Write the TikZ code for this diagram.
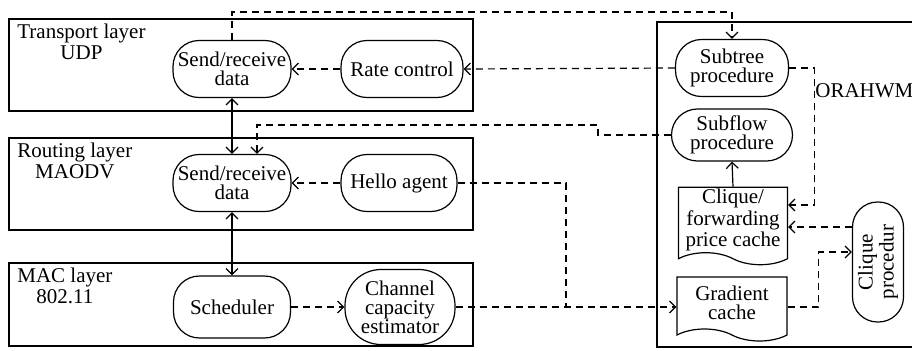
\documentclass[tikz,border=0pt]{standalone}
\usepackage{fontspec}
\setmainfont{Liberation Serif}
\usetikzlibrary{arrows.meta,shapes.symbols}
\tikzset{
  pill/.style={draw,rectangle,rounded corners=13pt,align=center,inner sep=1pt,line width=0.6pt,font=\fontsize{10.5}{9.5}\selectfont},
  doc/.style={draw,tape,tape bend top=none,tape bend bottom=out and in,tape bend height=6pt,align=center,inner sep=1pt,line width=0.6pt,font=\fontsize{10.5}{9.5}\selectfont},
  layer/.style={anchor=north west,align=center,inner sep=0pt,font=\fontsize{10.5}{10.5}\selectfont},
  sline/.style={line width=0.6pt},
  dline/.style={line width=0.6pt,dash pattern=on 3.5pt off 2.5pt}
}
\begin{document}
\begin{tikzpicture}[x=0.5pt,y=-0.5pt,>={Straight Barb[length=3pt,width=6pt]}]
\clip (0,0) rectangle (912,350);
\draw[sline] (9,19) rectangle (473,111);
\draw[sline] (9,138) rectangle (473,230);
\draw[sline] (9,263) rectangle (473,346);
\draw[sline] (657,22) rectangle (930,347);
\node(tl)[layer] at (17,24){Transport layer\\UDP};
\node(rl)[layer] at (17,143){Routing layer\\MAODV};
\node(ml)[layer] at (17,268){MAC layer\\802.11};
\node(tsend)[pill,minimum width=59pt,minimum height=28.5pt] at (232,69){Send/receive\\data};
\node(rate)[pill,minimum width=61pt,minimum height=28.5pt] at (402,69){Rate control};
\node(rsend)[pill,minimum width=59pt,minimum height=28.5pt] at (232,183){Send/receive\\data};
\node(hello)[pill,minimum width=58pt,minimum height=28.5pt] at (399,183){Hello agent};
\node(sched)[pill,minimum width=58.5pt,minimum height=31pt] at (232,307){Scheduler};
\node(chan)[pill,rounded corners=18pt,minimum width=55pt,minimum height=37.5pt] at (400,307){Channel\\capacity\\estimator};
\node(subtree)[pill,minimum width=56.5pt,minimum height=28.5pt] at (732,68){Subtree\\procedure};
\node(subflow)[pill,minimum width=60.5pt,minimum height=26pt] at (732,135){Subflow\\procedure};
\node(fwdcache)[doc,minimum width=54.5pt,minimum height=34pt] at (733,220){Clique/\\forwarding\\price cache};
\node(gradcache)[doc,minimum width=55pt,minimum height=32pt] at (732,303){Gradient\\cache};
\node(cliqueproc)[pill,rotate=90,rounded corners=12.5pt,minimum width=60pt,minimum height=25.5pt] at (878,262){Clique\\procedur};
\node(orahwm)[anchor=west,inner sep=0pt,font=\fontsize{10.5}{10.5}\selectfont] at (815,91){ORAHWM};
\coordinate(top) at (0,12);
\coordinate(sfbend) at (598,125);
\coordinate(join) at (566,307);
\coordinate(cp1) at ([yshift=17.5pt]cliqueproc.north);
\coordinate(cp2) at ([yshift=5pt]cliqueproc.north);
\draw[dline,->] (tsend.north) -- (tsend.north |- top) -| (subtree.north);
\draw[dline,->] (subtree.west) -- (rate.east);
\draw[dline,->] (rate.west) -- (tsend.east);
\draw[sline,<->] (tsend.south) -- (rsend.north);
\draw[dline,->] (subflow.west) -| (sfbend) -| ([xshift=12.5pt]rsend.north);
\draw[dline,->] (hello.west) -- (rsend.east);
\draw[dline] (hello.east) -| (join);
\draw[sline,<->] (rsend.south) -- (sched.north);
\draw[dline,->] (sched.east) -- (chan.west);
\draw[dline,->] (chan.east) -- (chan.east -| gradcache.west);
\draw[dline,->] (subtree.east) -- ++(25,0) |- ([yshift=7.5pt]fwdcache.east);
\draw[dline,->] (cp1) -- (cp1 -| fwdcache.east);
\draw[dline,->] (chan.east -| gradcache.east) -- ++(31,0) |- (cp2);
\draw[sline,->] (fwdcache.north) -- (subflow.south);
\end{tikzpicture}
\end{document}
